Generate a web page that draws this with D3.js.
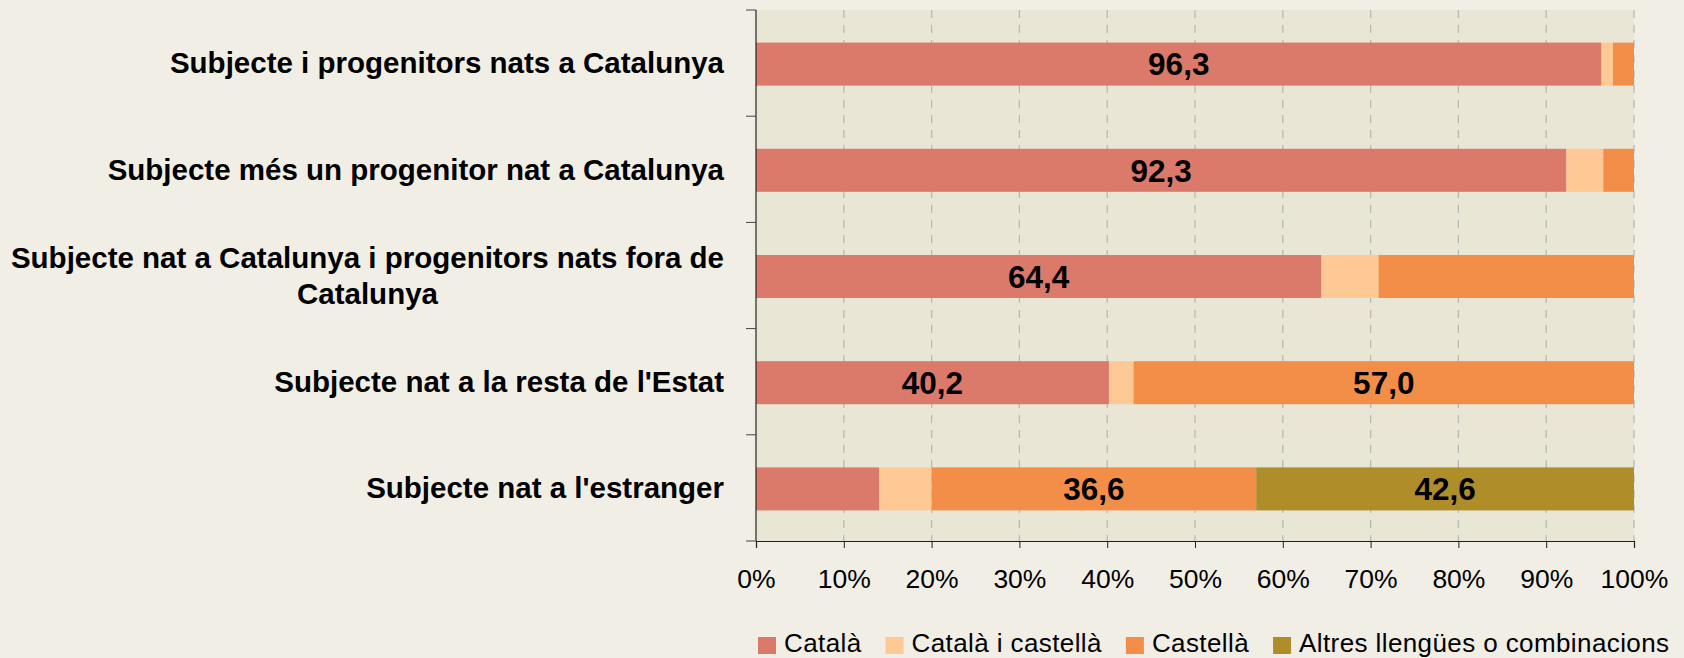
<!DOCTYPE html>
<html>
<head>
<meta charset="utf-8">
<script src="https://cdn.jsdelivr.net/npm/d3@7"></script>
<style>
  html, body { margin: 0; padding: 0; background: #f1eee6; }
  svg { display: block; }
  text { font-family: "Liberation Sans", Arial, sans-serif; }
</style>
</head>
<body>
<svg id="chart" width="1684" height="658"></svg>
<script>
const categories = [
  "Subjecte i progenitors nats a Catalunya",
  "Subjecte més un progenitor nat a Catalunya",
  "Subjecte nat a Catalunya i progenitors nats fora de Catalunya",
  "Subjecte nat a la resta de l'Estat",
  "Subjecte nat a l'estranger"
];
const seriesNames = ["Català", "Català i castellà", "Castellà", "Altres llengües o combinacions"];
const catala         = [96.3, 92.3, 64.4, 40.2, 13.9];
const catalaCastella = [1.3, 4.2, 6.5, 2.8, 5.9];
const castella       = [2.4, 3.5, 29.1, 57.0, 36.6];
const altres         = [0, 0, 0, 0, 42.6];
const xTicks = [0, 0.1, 0.2, 0.3, 0.4, 0.5, 0.6, 0.7, 0.8, 0.9, 1.0];
const colors = ["#db7a6b", "#fec995", "#f28e47", "#af8e2a"];
const labelThreshold = 30;

const seriesValues = [catala, catalaCastella, castella, altres];
const rows = categories.map((c, i) => {
  const r = { cat: c };
  seriesNames.forEach((s, k) => r[s] = seriesValues[k][i]);
  return r;
});

const W = 1684, H = 658;
const margin = { top: 10, right: 50, bottom: 117, left: 756 };
const iw = W - margin.left - margin.right;
const ih = H - margin.top - margin.bottom;

const svg = d3.select("#chart");
svg.append("rect").attr("width", W).attr("height", H).attr("fill", "#f1eee6");
const g = svg.append("g").attr("transform", `translate(${margin.left},${margin.top})`);

const x = d3.scaleLinear().domain([0, 1]).range([0, iw]);
const y = d3.scaleBand().domain(categories).range([0, ih]).paddingInner(0.595).paddingOuter(0.2975);

// plot background
g.append("rect").attr("width", iw).attr("height", ih).attr("fill", "#e9e6d6");

// gridlines
g.append("g")
  .selectAll("line")
  .data(xTicks.slice(1))
  .join("line")
  .attr("x1", d => x(d)).attr("x2", d => x(d))
  .attr("y1", 0).attr("y2", ih)
  .attr("stroke", "#b9b9b6")
  .attr("stroke-width", 1.3)
  .attr("stroke-dasharray", "8,7");

// stacked bars
const stack = d3.stack().keys(seriesNames).offset(d3.stackOffsetExpand);
const stacked = stack(rows);
const fmt = v => d3.format(".1f")(v).replace(".", ",");

const layers = g.append("g").selectAll("g")
  .data(stacked)
  .join("g")
  .attr("fill", (d, i) => colors[i]);

layers.selectAll("rect")
  .data(d => d)
  .join("rect")
  .attr("x", d => x(d[0]))
  .attr("width", d => x(d[1]) - x(d[0]))
  .attr("y", d => y(d.data.cat) + 1)
  .attr("height", y.bandwidth());

// value labels
const labelData = [];
stacked.forEach(layer => {
  layer.forEach(d => {
    const v = d.data[layer.key];
    if (v >= labelThreshold) labelData.push({ v, cx: (x(d[0]) + x(d[1])) / 2, cy: y(d.data.cat) + 1 + y.bandwidth() / 2 });
  });
});
g.append("g").selectAll("text")
  .data(labelData)
  .join("text")
  .attr("x", d => d.cx)
  .attr("y", d => d.cy)
  .attr("dy", "0.36em")
  .attr("text-anchor", "middle")
  .attr("font-size", "31.5px")
  .attr("font-weight", "bold")
  .attr("fill", "#000")
  .text(d => fmt(d.v));

// x axis
const xAxis = d3.axisBottom(x).tickValues(xTicks).tickFormat(d3.format(".0%")).tickSize(7).tickPadding(21);
const xa = g.append("g").attr("transform", `translate(0,${ih})`).call(xAxis);
xa.select(".domain").attr("stroke", "#222").attr("stroke-width", 1.2);
xa.selectAll(".tick line").attr("stroke", "#222");
xa.selectAll(".tick text").attr("font-size", "26.5px").attr("fill", "#000")
  .attr("font-family", "'Liberation Sans', Arial, sans-serif");

// y axis line and ticks at band boundaries
g.append("line").attr("x1", 0).attr("x2", 0).attr("y1", 0).attr("y2", ih).attr("stroke", "#222").attr("stroke-width", 1.2);
g.append("g").selectAll("line")
  .data(d3.range(categories.length + 1))
  .join("line")
  .attr("x1", -10).attr("x2", 0)
  .attr("y1", i => i * y.step()).attr("y2", i => i * y.step())
  .attr("stroke", "#444");

// category labels (wrapped, centered lines, block right-aligned)
const labelRight = -32;
const maxW = 730;
const lineH = 36.5;
categories.forEach(cat => {
  const cy = y(cat) + y.bandwidth() / 2;
  const t = g.append("text")
    .attr("font-size", "29.5px").attr("font-weight", "bold").attr("fill", "#000");
  const words = cat.split(" ");
  const lines = [];
  let cur = [];
  const probe = t.append("tspan");
  words.forEach(w => {
    const test = cur.concat([w]).join(" ");
    probe.text(test);
    if (probe.node().getComputedTextLength() > maxW && cur.length) {
      lines.push(cur.join(" "));
      cur = [w];
    } else cur.push(w);
  });
  lines.push(cur.join(" "));
  const widths = lines.map(l => { probe.text(l); return probe.node().getComputedTextLength(); });
  probe.remove();
  const blockW = d3.max(widths);
  const cx = labelRight - blockW / 2;
  const y0 = cy - (lines.length - 1) * lineH / 2;
  lines.forEach((l, i) => {
    t.append("tspan")
      .attr("x", lines.length > 1 ? cx : labelRight)
      .attr("text-anchor", lines.length > 1 ? "middle" : "end")
      .attr("y", y0 + i * lineH)
      .attr("dy", "0.35em")
      .text(l);
  });
});

// legend
const legend = svg.append("g").attr("transform", "translate(758,637)");
let lx = 0;
seriesNames.forEach((s, i) => {
  const item = legend.append("g").attr("transform", `translate(${lx},0)`);
  item.append("rect").attr("width", 18).attr("height", 17).attr("fill", colors[i]);
  const tx = item.append("text").attr("x", 26).attr("y", 15)
    .attr("font-size", "26px").attr("letter-spacing", "0.4px").attr("fill", "#000").text(s);
  lx += 26 + tx.node().getComputedTextLength() + 24;
});
</script>
</body>
</html>
